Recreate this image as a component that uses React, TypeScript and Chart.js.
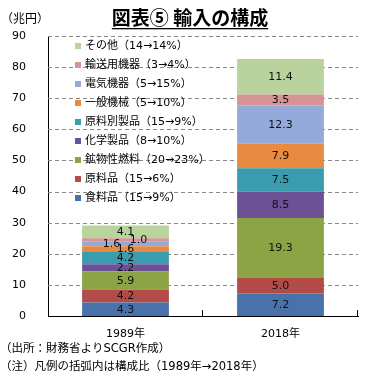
import React, { useEffect, useRef } from 'react';
import { Chart, registerables } from 'chart.js';

Chart.register(...registerables);

const categories = ['1989年', '2018年'];

const seriesNames = [
  '食料品（15→9%）',
  '原料品（15→6%）',
  '鉱物性燃料（20→23%）',
  '化学製品（8→10%）',
  '原料別製品（15→9%）',
  '一般機械（5→10%）',
  '電気機器（5→15%）',
  '輸送用機器（3→4%）',
  'その他（14→14%）',
];

const food = [4.3, 7.2];
const rawMaterials = [4.2, 5.0];
const fuels = [5.9, 19.3];
const chemicals = [2.2, 8.5];
const manufactured = [4.2, 7.5];
const generalMachinery = [1.6, 7.9];
const electrical = [1.6, 12.3];
const transport = [1.0, 3.5];
const others = [4.1, 11.4];

const seriesValues = [food, rawMaterials, fuels, chemicals, manufactured, generalMachinery, electrical, transport, others];

const seriesColors = ['#4A72AA', '#B34B48', '#8CA444', '#6D5196', '#3A9CAF', '#E88A3F', '#94AADA', '#D89495', '#B8D49C'];

const yMin = 0;
const yMax = 90;
const yStep = 10;

const titleText = '図表⑤ 輸入の構成';
const unitText = '（兆円）';
const notes = ['（出所：財務省よりSCGR作成）', '（注）凡例の括弧内は構成比（1989年→2018年）'];

const LATIN = '"DejaVu Sans"';
const MIXED = '"DejaVu Sans", "Noto Sans CJK JP"';
const CJK = '"Noto Sans CJK JP", "DejaVu Sans"';

// label shifts for crowded small segments (dataset-category)
const labelShift: Record<string, number> = { '6-0': -14, '7-0': 13 };

const decorPlugin = {
  id: 'decor',
  beforeDatasetsDraw(chart: any) {
    const ctx = chart.ctx as CanvasRenderingContext2D;
    const ys = chart.scales.y;
    const ca = chart.chartArea;
    ctx.save();
    ctx.strokeStyle = '#8a8a8a';
    ctx.lineWidth = 1;
    ctx.setLineDash([4, 3]);
    ys.ticks.forEach((t: any) => {
      if (t.value === yMin) return;
      const py = Math.round(ys.getPixelForValue(t.value)) + 0.5;
      ctx.beginPath();
      ctx.moveTo(ca.left, py);
      ctx.lineTo(ca.right, py);
      ctx.stroke();
    });
    ctx.restore();
  },
  afterDatasetsDraw(chart: any) {
    const ctx = chart.ctx as CanvasRenderingContext2D;
    ctx.save();
    ctx.font = `11px ${LATIN}`;
    ctx.fillStyle = '#111';
    ctx.textAlign = 'center';
    ctx.textBaseline = 'middle';
    chart.data.datasets.forEach((ds: any, di: number) => {
      const meta = chart.getDatasetMeta(di);
      meta.data.forEach((bar: any, i: number) => {
        const p = bar.getProps(['x', 'y', 'base'], true);
        const dx = labelShift[`${di}-${i}`] || 0;
        ctx.fillText(Number(ds.data[i]).toFixed(1), p.x + dx, (p.y + p.base) / 2 + 0.5);
      });
    });
    // inward x ticks at category boundaries
    const xs = chart.scales.x;
    const ca = chart.chartArea;
    const half = (xs.getPixelForValue(1) - xs.getPixelForValue(0)) / 2;
    ctx.strokeStyle = '#000';
    ctx.lineWidth = 1;
    for (let i = 0; i < categories.length; i++) {
      const bx = Math.round(xs.getPixelForValue(i) + half) - 0.5;
      ctx.beginPath();
      ctx.moveTo(bx, ca.bottom);
      ctx.lineTo(bx, ca.bottom - 6);
      ctx.stroke();
    }
    ctx.restore();
  },
  afterDraw(chart: any) {
    const ctx = chart.ctx as CanvasRenderingContext2D;
    ctx.save();
    // title
    ctx.font = `bold 19px ${CJK}`;
    ctx.fillStyle = '#000';
    ctx.textAlign = 'center';
    ctx.textBaseline = 'middle';
    const tx = 190;
    ctx.fillText(titleText, tx, 18);
    const tw = ctx.measureText(titleText).width;
    ctx.fillRect(tx - tw / 2, 28, tw, 1.3);
    // unit
    ctx.font = `12px ${CJK}`;
    ctx.textAlign = 'left';
    ctx.fillText(unitText, 1, 18);
    // legend
    ctx.font = `11px ${MIXED}`;
    const n = seriesNames.length;
    for (let k = 0; k < n; k++) {
      const idx = n - 1 - k;
      const cy = 46 + k * 19;
      ctx.fillStyle = seriesColors[idx];
      ctx.fillRect(75, cy - 3, 6, 6);
      ctx.fillStyle = '#000';
      ctx.fillText(seriesNames[idx], 85, cy);
    }
    // notes
    ctx.font = `11.5px ${MIXED}`;
    ctx.fillText(notes[0], 0, 349);
    ctx.fillText(notes[1], 0, 367);
    ctx.restore();
  },
};

export default function App() {
  const ref = useRef<HTMLCanvasElement | null>(null);
  useEffect(() => {
    document.body.style.margin = '0';
    const canvas = ref.current;
    if (!canvas) return;
    const chart = new Chart(canvas, {
      type: 'bar',
      data: {
        labels: categories,
        datasets: seriesValues.map((vals, i) => ({
          label: seriesNames[i],
          data: vals,
          backgroundColor: seriesColors[i],
          borderWidth: 0,
          categoryPercentage: 1,
          barPercentage: 0.56,
        })),
      },
      options: {
        responsive: false,
        animation: false,
        devicePixelRatio: 1,
        layout: { padding: { left: 0, right: 19, top: 36, bottom: 0 } },
        plugins: {
          legend: { display: false },
          tooltip: { enabled: false },
          title: { display: false },
        },
        scales: {
          x: {
            stacked: true,
            grid: { display: false },
            border: { display: true, color: '#000', width: 1 },
            ticks: { font: { size: 11, family: MIXED }, color: '#000', padding: 4 },
            afterFit: (s: any) => { s.height = 66; },
          },
          y: {
            stacked: true,
            min: yMin,
            max: yMax,
            ticks: { stepSize: yStep, font: { size: 11, family: LATIN }, color: '#000', padding: 14 },
            grid: { display: false },
            border: { display: true, color: '#000', width: 1 },
            afterFit: (s: any) => { s.width = 48; },
          },
        },
      },
      plugins: [decorPlugin],
    });
    return () => chart.destroy();
  }, []);
  return <canvas ref={ref} width={377} height={382} style={{ display: 'block' }} />;
}
